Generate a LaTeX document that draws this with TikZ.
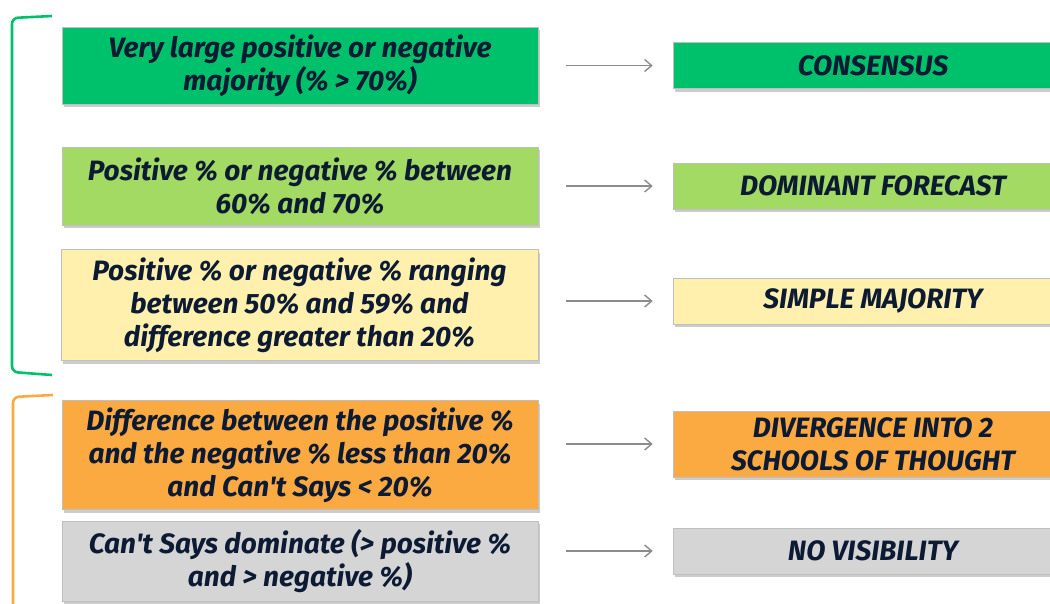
\documentclass[tikz,border=0pt]{standalone}
\usepackage{fontspec}
\setmainfont{Fira Sans}
\usepackage{tikz}
\usetikzlibrary{shadows,arrows.meta}
\definecolor{strong green}{HTML}{00C16B}
\definecolor{light green}{HTML}{A2DA64}
\definecolor{pale yellow}{HTML}{FFF0AE}
\definecolor{soft orange}{HTML}{FBAA42}
\definecolor{light grey}{HTML}{D5D5D5}
\definecolor{ink}{HTML}{0C1A33}

\tikzset{
  card/.style={draw=black!25, line width=0.6pt, align=center, text=ink, inner sep=0pt,
    font=\fontsize{28}{33}\selectfont\bfseries\itshape,
    drop shadow={shadow xshift=2pt, shadow yshift=-3pt, fill=black!40}},
  link/.style={draw=black!45, line width=1.4pt, -{Straight Barb[length=7pt,width=12pt]},
    shorten <=28pt, shorten >=20pt},
  brace/.style={line width=2.6pt, rounded corners=6pt}
}

\begin{document}
\begin{tikzpicture}[x=1pt, y=-1pt]
			\useasboundingbox (0,0) rectangle (1050,603);
			% conditions on the left
			\node[card, fill=strong green, minimum width=476pt, minimum height=77pt]
				(cond1) at (300,65.5) {Very large positive or negative\\majority (\% > 70\%)};
			\node[card, fill=light green, minimum width=476pt, minimum height=78pt]
				(cond2) at (300,186) {Positive \% or negative \% between\\60\% and 70\%};
			\node[card, fill=pale yellow, minimum width=477pt, minimum height=111pt]
				(cond3) at (299.5,305) {Positive \% or negative \% ranging\\between 50\% and 59\% and\\difference greater than 20\%};
			\node[card, fill=soft orange, minimum width=476pt, minimum height=109pt]
				(cond4) at (300,455) {Difference between the positive \%\\and the negative \% less than 20\%\\and Can\textquotesingle t Says < 20\%};
			\node[card, fill=light grey, minimum width=476pt, minimum height=80pt]
				(cond5) at (300,561) {Can\textquotesingle t Says dominate (> positive \%\\and > negative \%)};
			% outcomes on the right
			\node[card, fill=strong green, minimum width=400pt, minimum height=46pt]
				(res1) at (873,65.5) {CONSENSUS};
			\node[card, fill=light green, minimum width=400pt, minimum height=46pt]
				(res2) at (873,186) {DOMINANT FORECAST};
			\node[card, fill=pale yellow, minimum width=400pt, minimum height=46pt]
				(res3) at (873,301) {SIMPLE MAJORITY};
			\node[card, fill=soft orange, minimum width=400pt, minimum height=66pt]
				(res4) at (873,444) {DIVERGENCE INTO 2\\SCHOOLS OF THOUGHT};
			\node[card, fill=light grey, minimum width=400pt, minimum height=46pt]
				(res5) at (873,551) {NO VISIBILITY};
			% arrows
			\foreach \i in {1,...,5}
				\draw[link] (cond\i.east |- res\i.west) -- (res\i.west);
			% brackets
			\draw[brace, strong green] (52,16) -- (12,18) -- (12,372) -- (52,375);
			\draw[brace, soft orange] (53,395) -- (13,397) -- (13,610);
		\end{tikzpicture}
\end{document}
